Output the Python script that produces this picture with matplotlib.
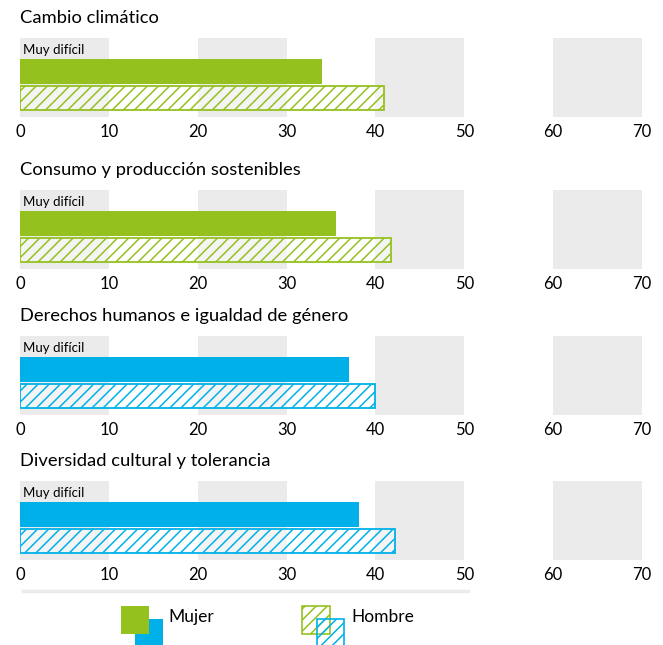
import matplotlib
matplotlib.use("Agg")
import matplotlib.pyplot as plt
from matplotlib.patches import Rectangle
from matplotlib.lines import Line2D

plt.rcParams['font.family'] = ['Lato', 'DejaVu Sans']
plt.rcParams['hatch.linewidth'] = 1.1

# share (%) answering "Muy difícil", by topic and sex
temas = ["Cambio climático",
         "Consumo y producción sostenibles",
         "Derechos humanos e igualdad de género",
         "Diversidad cultural y tolerancia"]
mujer = [34.0, 35.6, 37.0, 38.1]
hombre = [41.0, 41.7, 40.0, 42.2]
ticks = [0, 10, 20, 30, 40, 50, 60, 70]

VERDE = "#95c11f"
AZUL = "#00b1e9"
GRIS = "#ebebeb"
colores = [VERDE, VERDE, AZUL, AZUL]

W, H = 663, 645
fig = plt.figure(figsize=(W / 100, H / 100), dpi=100)

x0, x1 = 20, 642
band_tops = [38, 190, 336, 481]
band_h = 79
# bar centres sit 33.5 px and 60 px below the band top
unit = 26.5
ylo = -33.5 / unit
yhi = (band_h - 33.5) / unit

for i, tema in enumerate(temas):
    top = band_tops[i]
    ax = fig.add_axes([x0 / W, 1 - (top + band_h) / H, (x1 - x0) / W, band_h / H])
    ax.set_xlim(0, 70)
    ax.set_ylim(yhi, ylo)
    for a in (0, 20, 40, 60):
        ax.axvspan(a, a + 10, color=GRIS, lw=0, zorder=0)
    ax.barh(0, mujer[i], height=0.94, color=colores[i], lw=0, zorder=2)
    ax.barh(1, hombre[i], height=0.9, facecolor=(1, 1, 1, 0.45),
            edgecolor=colores[i], hatch="///", lw=1.3, zorder=2)
    ax.text(0.3, -0.83, "Muy difícil", fontsize=9.5, va="center", ha="left", zorder=3)
    for s in ax.spines.values():
        s.set_visible(False)
    ax.set_yticks([])
    ax.set_xticks(ticks)
    ax.set_xticklabels([str(t) for t in ticks], fontsize=12)
    ax.tick_params(axis="x", length=0, pad=5)
    fig.text(x0 / W, 1 - (top - 20) / H, tema, fontsize=13.2, va="center", ha="left")

# legend strip
lg = fig.add_axes([0, 0, 1, 70 / H])
lg.set_xlim(0, W)
lg.set_ylim(70, 0)
lg.axis("off")
lg.add_line(Line2D([23, 468], [16, 16], color=GRIS, lw=2.5))
lg.add_patch(Rectangle((135, 44), 28, 30, color=AZUL, lw=0))
lg.add_patch(Rectangle((121, 31), 28, 28, color=VERDE, lw=0))
lg.text(168, 42, "Mujer", fontsize=12.5, va="center")
lg.add_patch(Rectangle((302, 31), 28, 28, facecolor="white", edgecolor=VERDE,
                       hatch="///", lw=1.2))
lg.add_patch(Rectangle((317, 44), 27, 30, facecolor=(1, 1, 1, 0), edgecolor=AZUL,
                       hatch="///", lw=1.2))
lg.text(351, 42, "Hombre", fontsize=12.5, va="center")

fig.savefig("out.png", dpi=100)
